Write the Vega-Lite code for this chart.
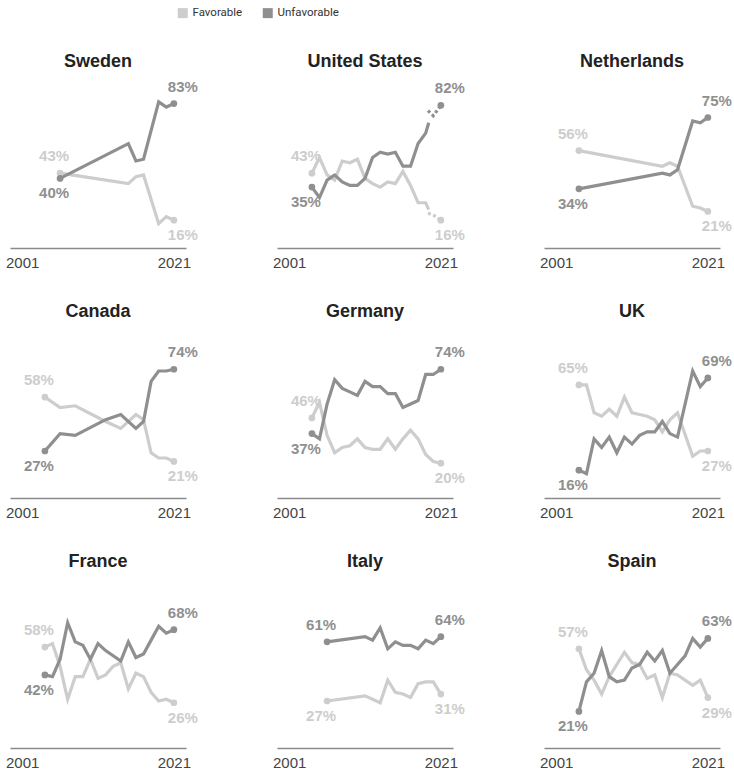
{
  "$schema": "https://vega.github.io/schema/vega-lite/v6.json",
  "padding": {"left": 5, "top": 7, "right": 5, "bottom": 5},
  "bounds": "flush",
  "background": "white",
  "data": {"values": [
    {"c":"Sweden","year":2006,"Favorable":43,"Unfavorable":40},
    {"c":"Sweden","year":2015,"Favorable":37,"Unfavorable":60},
    {"c":"Sweden","year":2016,"Favorable":41,"Unfavorable":50},
    {"c":"Sweden","year":2017,"Favorable":42,"Unfavorable":51},
    {"c":"Sweden","year":2019,"Favorable":14,"Unfavorable":84},
    {"c":"Sweden","year":2020,"Favorable":18,"Unfavorable":81},
    {"c":"Sweden","year":2021,"Favorable":16,"Unfavorable":83},

    {"c":"United States","year":2004,"Favorable":43,"Unfavorable":35},
    {"c":"United States","year":2005,"Favorable":52,"Unfavorable":29},
    {"c":"United States","year":2006,"Favorable":42,"Unfavorable":39},
    {"c":"United States","year":2007,"Favorable":39,"Unfavorable":42},
    {"c":"United States","year":2008,"Favorable":50,"Unfavorable":38},
    {"c":"United States","year":2009,"Favorable":49,"Unfavorable":36},
    {"c":"United States","year":2010,"Favorable":51,"Unfavorable":36},
    {"c":"United States","year":2011,"Favorable":40,"Unfavorable":40},
    {"c":"United States","year":2012,"Favorable":37,"Unfavorable":52},
    {"c":"United States","year":2013,"Favorable":35,"Unfavorable":55},
    {"c":"United States","year":2014,"Favorable":38,"Unfavorable":54},
    {"c":"United States","year":2015,"Favorable":37,"Unfavorable":55},
    {"c":"United States","year":2016,"Favorable":44,"Unfavorable":47},
    {"c":"United States","year":2017,"Favorable":36,"Unfavorable":47},
    {"c":"United States","year":2018,"Favorable":26,"Unfavorable":60},
    {"c":"United States","year":2019,"Favorable":26,"Unfavorable":66},
    {"c":"United States","year":2019.4,"Favorable":22,"Unfavorable":72},
    {"c":"United States","year":2019.3,"Favorable":20,"Unfavorable":79,"seg":"dotted"},
    {"c":"United States","year":2020,"Favorable":19,"Unfavorable":76,"seg":"dotted"},
    {"c":"United States","year":2021,"Favorable":16,"Unfavorable":82,"seg":"dotted"},

    {"c":"Netherlands","year":2004,"Favorable":56,"Unfavorable":34},
    {"c":"Netherlands","year":2015,"Favorable":47,"Unfavorable":43},
    {"c":"Netherlands","year":2016,"Favorable":49,"Unfavorable":42},
    {"c":"Netherlands","year":2017,"Favorable":47,"Unfavorable":45},
    {"c":"Netherlands","year":2019,"Favorable":24,"Unfavorable":73},
    {"c":"Netherlands","year":2020,"Favorable":23,"Unfavorable":72},
    {"c":"Netherlands","year":2021,"Favorable":21,"Unfavorable":75},

    {"c":"Canada","year":2004,"Favorable":58,"Unfavorable":27},
    {"c":"Canada","year":2006,"Favorable":52,"Unfavorable":37},
    {"c":"Canada","year":2008,"Favorable":53,"Unfavorable":36},
    {"c":"Canada","year":2012,"Favorable":44,"Unfavorable":45},
    {"c":"Canada","year":2014,"Favorable":40,"Unfavorable":48},
    {"c":"Canada","year":2016,"Favorable":48,"Unfavorable":40},
    {"c":"Canada","year":2017,"Favorable":45,"Unfavorable":44},
    {"c":"Canada","year":2018,"Favorable":26,"Unfavorable":67},
    {"c":"Canada","year":2019,"Favorable":23,"Unfavorable":73},
    {"c":"Canada","year":2020,"Favorable":23,"Unfavorable":73},
    {"c":"Canada","year":2021,"Favorable":21,"Unfavorable":74},

    {"c":"Germany","year":2004,"Favorable":46,"Unfavorable":37},
    {"c":"Germany","year":2005,"Favorable":55,"Unfavorable":34},
    {"c":"Germany","year":2006,"Favorable":36,"Unfavorable":54},
    {"c":"Germany","year":2007,"Favorable":26,"Unfavorable":68},
    {"c":"Germany","year":2008,"Favorable":29,"Unfavorable":63},
    {"c":"Germany","year":2009,"Favorable":30,"Unfavorable":61},
    {"c":"Germany","year":2010,"Favorable":34,"Unfavorable":59},
    {"c":"Germany","year":2011,"Favorable":29,"Unfavorable":67},
    {"c":"Germany","year":2012,"Favorable":28,"Unfavorable":64},
    {"c":"Germany","year":2013,"Favorable":28,"Unfavorable":64},
    {"c":"Germany","year":2014,"Favorable":34,"Unfavorable":60},
    {"c":"Germany","year":2015,"Favorable":28,"Unfavorable":60},
    {"c":"Germany","year":2016,"Favorable":34,"Unfavorable":52},
    {"c":"Germany","year":2017,"Favorable":39,"Unfavorable":54},
    {"c":"Germany","year":2018,"Favorable":34,"Unfavorable":56},
    {"c":"Germany","year":2019,"Favorable":25,"Unfavorable":71},
    {"c":"Germany","year":2020,"Favorable":21,"Unfavorable":71},
    {"c":"Germany","year":2021,"Favorable":20,"Unfavorable":74},

    {"c":"UK","year":2004,"Favorable":65,"Unfavorable":16},
    {"c":"UK","year":2005,"Favorable":65,"Unfavorable":14},
    {"c":"UK","year":2006,"Favorable":49,"Unfavorable":34},
    {"c":"UK","year":2007,"Favorable":47,"Unfavorable":29},
    {"c":"UK","year":2008,"Favorable":51,"Unfavorable":35},
    {"c":"UK","year":2009,"Favorable":47,"Unfavorable":26},
    {"c":"UK","year":2010,"Favorable":58,"Unfavorable":35},
    {"c":"UK","year":2011,"Favorable":49,"Unfavorable":31},
    {"c":"UK","year":2012,"Favorable":48,"Unfavorable":36},
    {"c":"UK","year":2013,"Favorable":47,"Unfavorable":38},
    {"c":"UK","year":2014,"Favorable":45,"Unfavorable":38},
    {"c":"UK","year":2015,"Favorable":38,"Unfavorable":44},
    {"c":"UK","year":2016,"Favorable":45,"Unfavorable":37},
    {"c":"UK","year":2017,"Favorable":49,"Unfavorable":35},
    {"c":"UK","year":2019,"Favorable":24,"Unfavorable":73},
    {"c":"UK","year":2020,"Favorable":27,"Unfavorable":64},
    {"c":"UK","year":2021,"Favorable":27,"Unfavorable":69},

    {"c":"France","year":2004,"Favorable":58,"Unfavorable":42},
    {"c":"France","year":2005,"Favorable":60,"Unfavorable":41},
    {"c":"France","year":2006,"Favorable":47,"Unfavorable":51},
    {"c":"France","year":2007,"Favorable":28,"Unfavorable":72},
    {"c":"France","year":2008,"Favorable":41,"Unfavorable":61},
    {"c":"France","year":2009,"Favorable":41,"Unfavorable":59},
    {"c":"France","year":2010,"Favorable":51,"Unfavorable":51},
    {"c":"France","year":2011,"Favorable":40,"Unfavorable":60},
    {"c":"France","year":2012,"Favorable":42,"Unfavorable":56},
    {"c":"France","year":2013,"Favorable":47,"Unfavorable":53},
    {"c":"France","year":2014,"Favorable":49,"Unfavorable":50},
    {"c":"France","year":2015,"Favorable":34,"Unfavorable":61},
    {"c":"France","year":2016,"Favorable":43,"Unfavorable":52},
    {"c":"France","year":2017,"Favorable":41,"Unfavorable":54},
    {"c":"France","year":2018,"Favorable":32,"Unfavorable":62},
    {"c":"France","year":2019,"Favorable":27,"Unfavorable":70},
    {"c":"France","year":2020,"Favorable":28,"Unfavorable":66},
    {"c":"France","year":2021,"Favorable":26,"Unfavorable":68},

    {"c":"Italy","year":2006,"Favorable":27,"Unfavorable":61},
    {"c":"Italy","year":2011,"Favorable":30,"Unfavorable":64},
    {"c":"Italy","year":2012,"Favorable":28,"Unfavorable":62},
    {"c":"Italy","year":2013,"Favorable":26,"Unfavorable":69},
    {"c":"Italy","year":2014,"Favorable":39,"Unfavorable":57},
    {"c":"Italy","year":2015,"Favorable":32,"Unfavorable":61},
    {"c":"Italy","year":2016,"Favorable":31,"Unfavorable":59},
    {"c":"Italy","year":2017,"Favorable":29,"Unfavorable":59},
    {"c":"Italy","year":2018,"Favorable":37,"Unfavorable":57},
    {"c":"Italy","year":2019,"Favorable":38,"Unfavorable":62},
    {"c":"Italy","year":2020,"Favorable":38,"Unfavorable":60},
    {"c":"Italy","year":2021,"Favorable":31,"Unfavorable":64},

    {"c":"Spain","year":2004,"Favorable":57,"Unfavorable":21},
    {"c":"Spain","year":2005,"Favorable":45,"Unfavorable":38},
    {"c":"Spain","year":2006,"Favorable":39,"Unfavorable":43},
    {"c":"Spain","year":2007,"Favorable":31,"Unfavorable":56},
    {"c":"Spain","year":2008,"Favorable":41,"Unfavorable":41},
    {"c":"Spain","year":2009,"Favorable":48,"Unfavorable":38},
    {"c":"Spain","year":2010,"Favorable":55,"Unfavorable":39},
    {"c":"Spain","year":2011,"Favorable":49,"Unfavorable":46},
    {"c":"Spain","year":2012,"Favorable":48,"Unfavorable":48},
    {"c":"Spain","year":2013,"Favorable":40,"Unfavorable":55},
    {"c":"Spain","year":2014,"Favorable":42,"Unfavorable":50},
    {"c":"Spain","year":2015,"Favorable":29,"Unfavorable":56},
    {"c":"Spain","year":2016,"Favorable":43,"Unfavorable":43},
    {"c":"Spain","year":2017,"Favorable":42,"Unfavorable":48},
    {"c":"Spain","year":2018,"Favorable":39,"Unfavorable":53},
    {"c":"Spain","year":2019,"Favorable":36,"Unfavorable":63},
    {"c":"Spain","year":2020,"Favorable":39,"Unfavorable":58},
    {"c":"Spain","year":2021,"Favorable":29,"Unfavorable":63}
  ]},
  "transform": [
    {"fold": ["Favorable", "Unfavorable"], "as": ["series", "value"]},
    {"joinaggregate": [{"op": "min", "field": "year", "as": "firstYear"}, {"op": "max", "field": "year", "as": "lastYear"}], "groupby": ["c", "series"]},
    {"joinaggregate": [{"op": "max", "field": "value", "as": "topValue"}], "groupby": ["c", "year"]}
  ],
  "facet": {
    "field": "c",
    "type": "nominal",
    "sort": ["Sweden", "United States", "Netherlands", "Canada", "Germany", "UK", "France", "Italy", "Spain"],
    "header": {"title": null, "labelFontSize": 18, "labelFontWeight": "bold", "labelColor": "#222222", "labelFont": "Liberation Sans", "labelPadding": 3}
  },
  "columns": 3,
  "spacing": {"column": 91, "row": 76},
  "resolve": {"axis": {"x": "independent"}},
  "spec": {
    "width": 176,
    "height": 174,
    "encoding": {
      "x": {"field": "year", "type": "quantitative", "scale": {"domain": [1999.4, 2022.6], "nice": false, "zero": false},
        "axis": {"values": [2001, 2021], "format": "d", "title": null, "grid": false, "ticks": false, "tickSize": 0, "labelPadding": 7, "labelFontSize": 15, "labelFont": "Liberation Sans", "labelColor": "#444444", "domainColor": "#8a8a8a", "domainWidth": 1.5, "labelFlush": false}},
      "y": {"field": "value", "type": "quantitative", "scale": {"domain": [0, 100], "nice": false}, "axis": null},
      "color": {"field": "series", "type": "nominal",
        "scale": {"domain": ["Favorable", "Unfavorable"], "range": ["#cdcdcd", "#8f8f8f"]},
        "legend": {"orient": "none", "legendX": 167, "legendY": -67, "direction": "horizontal", "title": null,
          "symbolType": "square", "symbolSize": 100, "symbolStrokeWidth": 0, "labelFontSize": 11.5, "labelFont": "Roboto", "labelColor": "#333333", "labelOffset": 4, "columnPadding": 19,
          "encode": {"symbols": {"update": {"fill": {"scale": "color", "field": "value"}, "stroke": {"value": "transparent"}}}}}}
    },
    "layer": [
      {"transform": [{"filter": "datum.seg != 'dotted'"}], "mark": {"type": "line", "strokeWidth": 3.2}},
      {"transform": [{"filter": "datum.seg == 'dotted'"}], "mark": {"type": "line", "strokeWidth": 3.2, "strokeDash": [3, 2.5]}},
      {"transform": [{"filter": "datum.year == datum.firstYear || datum.year == datum.lastYear"}], "mark": {"type": "circle", "size": 45, "opacity": 1}},
      {"transform": [{"filter": "datum.year == datum.firstYear && datum.value == datum.topValue"}],
        "mark": {"type": "text", "fontWeight": "bold", "fontSize": 15, "font": "Liberation Sans", "dx": -6, "dy": -17, "baseline": "middle", "text": {"expr": "datum.value + '%'"}}},
      {"transform": [{"filter": "datum.year == datum.firstYear && datum.value != datum.topValue"}],
        "mark": {"type": "text", "fontWeight": "bold", "fontSize": 15, "font": "Liberation Sans", "dx": -6, "dy": 15, "baseline": "middle", "text": {"expr": "datum.value + '%'"}}},
      {"transform": [{"filter": "datum.year == datum.lastYear && datum.value == datum.topValue"}],
        "mark": {"type": "text", "fontWeight": "bold", "fontSize": 15, "font": "Liberation Sans", "dx": 9, "dy": -17, "baseline": "middle", "text": {"expr": "datum.value + '%'"}}},
      {"transform": [{"filter": "datum.year == datum.lastYear && datum.value != datum.topValue"}],
        "mark": {"type": "text", "fontWeight": "bold", "fontSize": 15, "font": "Liberation Sans", "dx": 9, "dy": 15, "baseline": "middle", "text": {"expr": "datum.value + '%'"}}}
    ]
  },
  "config": {
    "view": {"stroke": null},
    "font": "Liberation Sans"
  }
}
